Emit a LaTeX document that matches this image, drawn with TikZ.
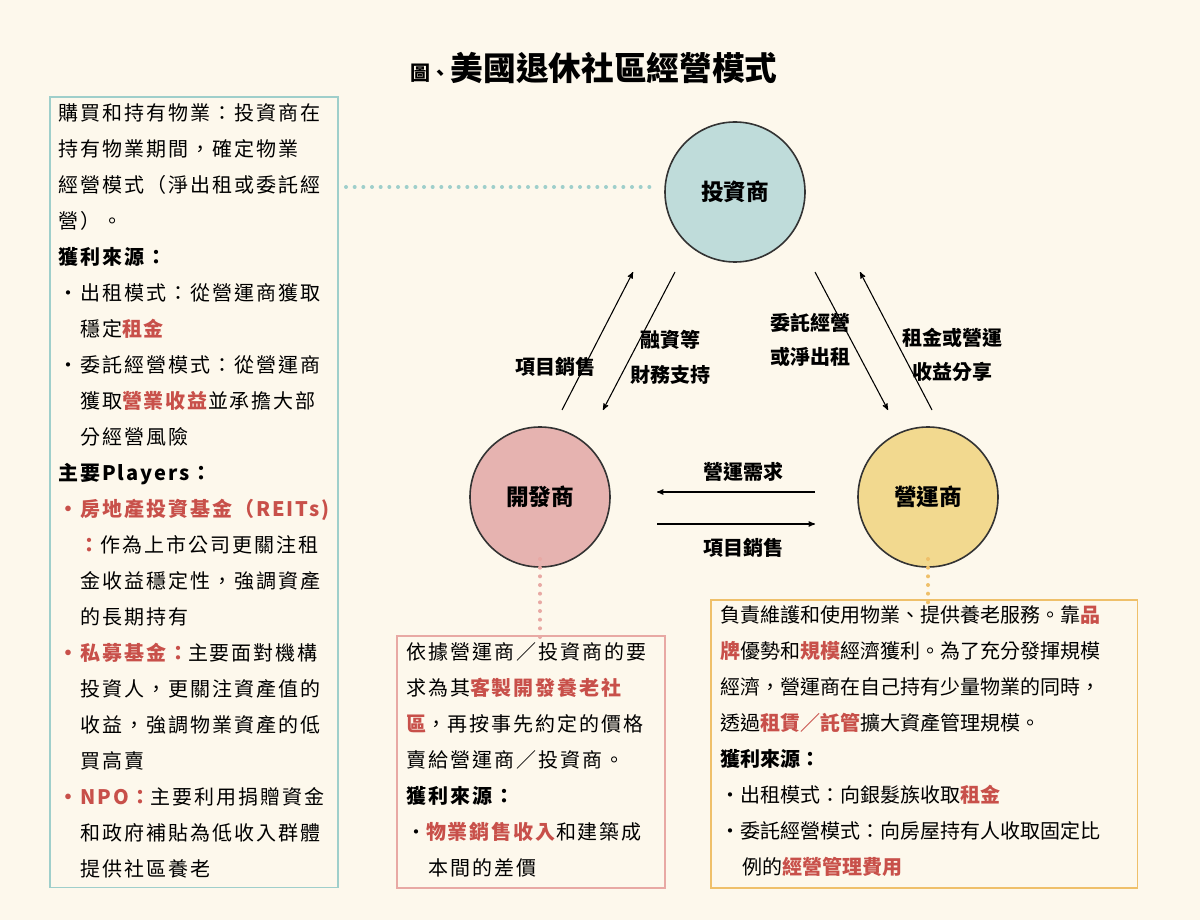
\documentclass[tikz,border=0pt]{standalone}
\usepackage{fontspec}
\setmainfont{Noto Sans CJK TC}
\usetikzlibrary{arrows,positioning}
\definecolor{bgcream}{HTML}{FDF8EC}
\definecolor{invfill}{HTML}{BFDCDA}
\definecolor{devfill}{HTML}{E6B3B0}
\definecolor{opfill}{HTML}{F2D98F}
\definecolor{tealline}{HTML}{9FCFCB}
\definecolor{pinkline}{HTML}{E8A9A4}
\definecolor{goldline}{HTML}{EFC06A}
\definecolor{hl}{HTML}{C8504A}
\newcommand{\hlt}[1]{{\bfseries\color{hl}#1}}
\newcommand{\ind}{\hspace*{1.1em}}
\begin{document}
\begin{tikzpicture}[x=0.75pt,y=-0.75pt,>=stealth',
  every node/.style={inner sep=0pt,outer sep=0pt}]
  \tikzstyle{party}=[circle,draw=black!80,line width=1.2pt,minimum size=105pt,
                     font=\fontsize{17}{20}\selectfont\bfseries]
  \tikzstyle{infobox}=[rectangle,line width=1pt,anchor=north west]
  \tikzstyle{boxtext}=[anchor=north west,align=left,font=\fontsize{15}{27}\selectfont]
  \tikzstyle{widetext}=[boxtext,font=\fontsize{15}{27}\selectfont\addfontfeature{LetterSpace=10}]
  \tikzstyle{flowlabel}=[align=center,font=\fontsize{15}{26}\selectfont\bfseries]
  \tikzstyle{flow}=[->,line width=0.8pt]
  \tikzstyle{link}=[line width=3pt,line cap=round,dash pattern=on 0pt off 6.5pt]

  \useasboundingbox[fill=bgcream] (0,0) rectangle (1200,920);

  \node (title) at (594,68) {{\fontsize{15}{18}\selectfont\bfseries 圖、}{\fontsize{24.5}{28}\selectfont\bfseries 美國退休社區經營模式}};

  % circles
  \node [party,fill=invfill] (inv) at (735,192) {投資商};
  \node [party,fill=devfill] (dev) at (540,497) {開發商};
  \node [party,fill=opfill]  (op)  at (928,497) {營運商};

  % boxes
  \node [infobox,draw=tealline,minimum width=216pt,minimum height=593pt] (lbox) at (50,97) {};
  \node [infobox,draw=pinkline,minimum width=201pt,minimum height=189pt] (mbox) at (397,636) {};
  \node [infobox,draw=goldline,minimum width=320pt,minimum height=216pt] (rbox) at (711,600) {};

  % dotted links
  \coordinate (lboxr) at (346,187);
  \draw [link,draw=tealline] (lboxr) -- ([xshift=-6]inv.west |- lboxr);
  \draw [link,draw=pinkline] ([yshift=6]dev.south) -- ([yshift=-4]mbox.north -| dev.south);
  \draw [link,draw=goldline] ([yshift=6]op.south) -- ([yshift=-4]rbox.north -| op.south);

  % arrows
  \coordinate (a1s) at (562,410); \coordinate (a1e) at (633,272);
  \coordinate (a2s) at (675,272); \coordinate (a2e) at (603,410);
  \coordinate (a3s) at (815,272); \coordinate (a3e) at (888,410);
  \coordinate (a4s) at (932,410); \coordinate (a4e) at (860,272);
  \coordinate (a5s) at (815,492); \coordinate (a5e) at (657,492);
  \coordinate (a6s) at (657,524); \coordinate (a6e) at (815,524);
  \draw [flow] (a1s) -- (a1e);
  \draw [flow] (a2s) -- (a2e);
  \draw [flow] (a3s) -- (a3e);
  \draw [flow] (a4s) -- (a4e);
  \draw [flow] (a5s) -- (a5e);
  \draw [flow] (a6s) -- (a6e);

  \node [flowlabel] (l1) at (555,367) {項目銷售};
  \node [flowlabel] (l2) at (670,357) {融資等\\財務支持};
  \node [flowlabel] (l3) at (810,340) {委託經營\\或淨出租};
  \node [flowlabel] (l4) at (952,355) {租金或營運\\收益分享};
  \node [flowlabel] (l5) at (743,472) {營運需求};
  \node [flowlabel] (l6) at (743,548) {項目銷售};

  % box texts
  \node [widetext] (ltext) at (58,104) {購買和持有物業：投資商在\\
    持有物業期間，確定物業\\
    經營模式（淨出租或委託經\\
    營）。\\
    \textbf{獲利來源：}\\
    ・出租模式：從營運商獲取\\
    \ind 穩定\hlt{租金}\\
    ・委託經營模式：從營運商\\
    \ind 獲取\hlt{營業收益}並承擔大部\\
    \ind 分經營風險\\
    \textbf{主要Players：}\\
    \hlt{・房地產投資基金（REITs)}\\
    \ind\hlt{：}作為上市公司更關注租\\
    \ind 金收益穩定性，強調資產\\
    \ind 的長期持有\\
    \hlt{・私募基金：}主要面對機構\\
    \ind 投資人，更關注資產值的\\
    \ind 收益，強調物業資產的低\\
    \ind 買高賣\\
    \hlt{・NPO：}主要利用捐贈資金\\
    \ind 和政府補貼為低收入群體\\
    \ind 提供社區養老};

  \node [widetext] (mtext) at (406,643) {依據營運商／投資商的要\\
    求為其\hlt{客製開發養老社}\\
    \hlt{區}，再按事先約定的價格\\
    賣給營運商／投資商。\\
    \textbf{獲利來源：}\\
    ・\hlt{物業銷售收入}和建築成\\
    \ind 本間的差價};

  \node [boxtext] (rtext) at (720,606) {負責維護和使用物業、提供養老服務。靠\hlt{品}\\
    \hlt{牌}優勢和\hlt{規模}經濟獲利。為了充分發揮規模\\
    經濟，營運商在自己持有少量物業的同時，\\
    透過\hlt{租賃／託管}擴大資產管理規模。\\
    \textbf{獲利來源：}\\
    ・出租模式：向銀髮族收取\hlt{租金}\\
    ・委託經營模式：向房屋持有人收取固定比\\
    \ind 例的\hlt{經營管理費用}};
\end{tikzpicture}
\end{document}
